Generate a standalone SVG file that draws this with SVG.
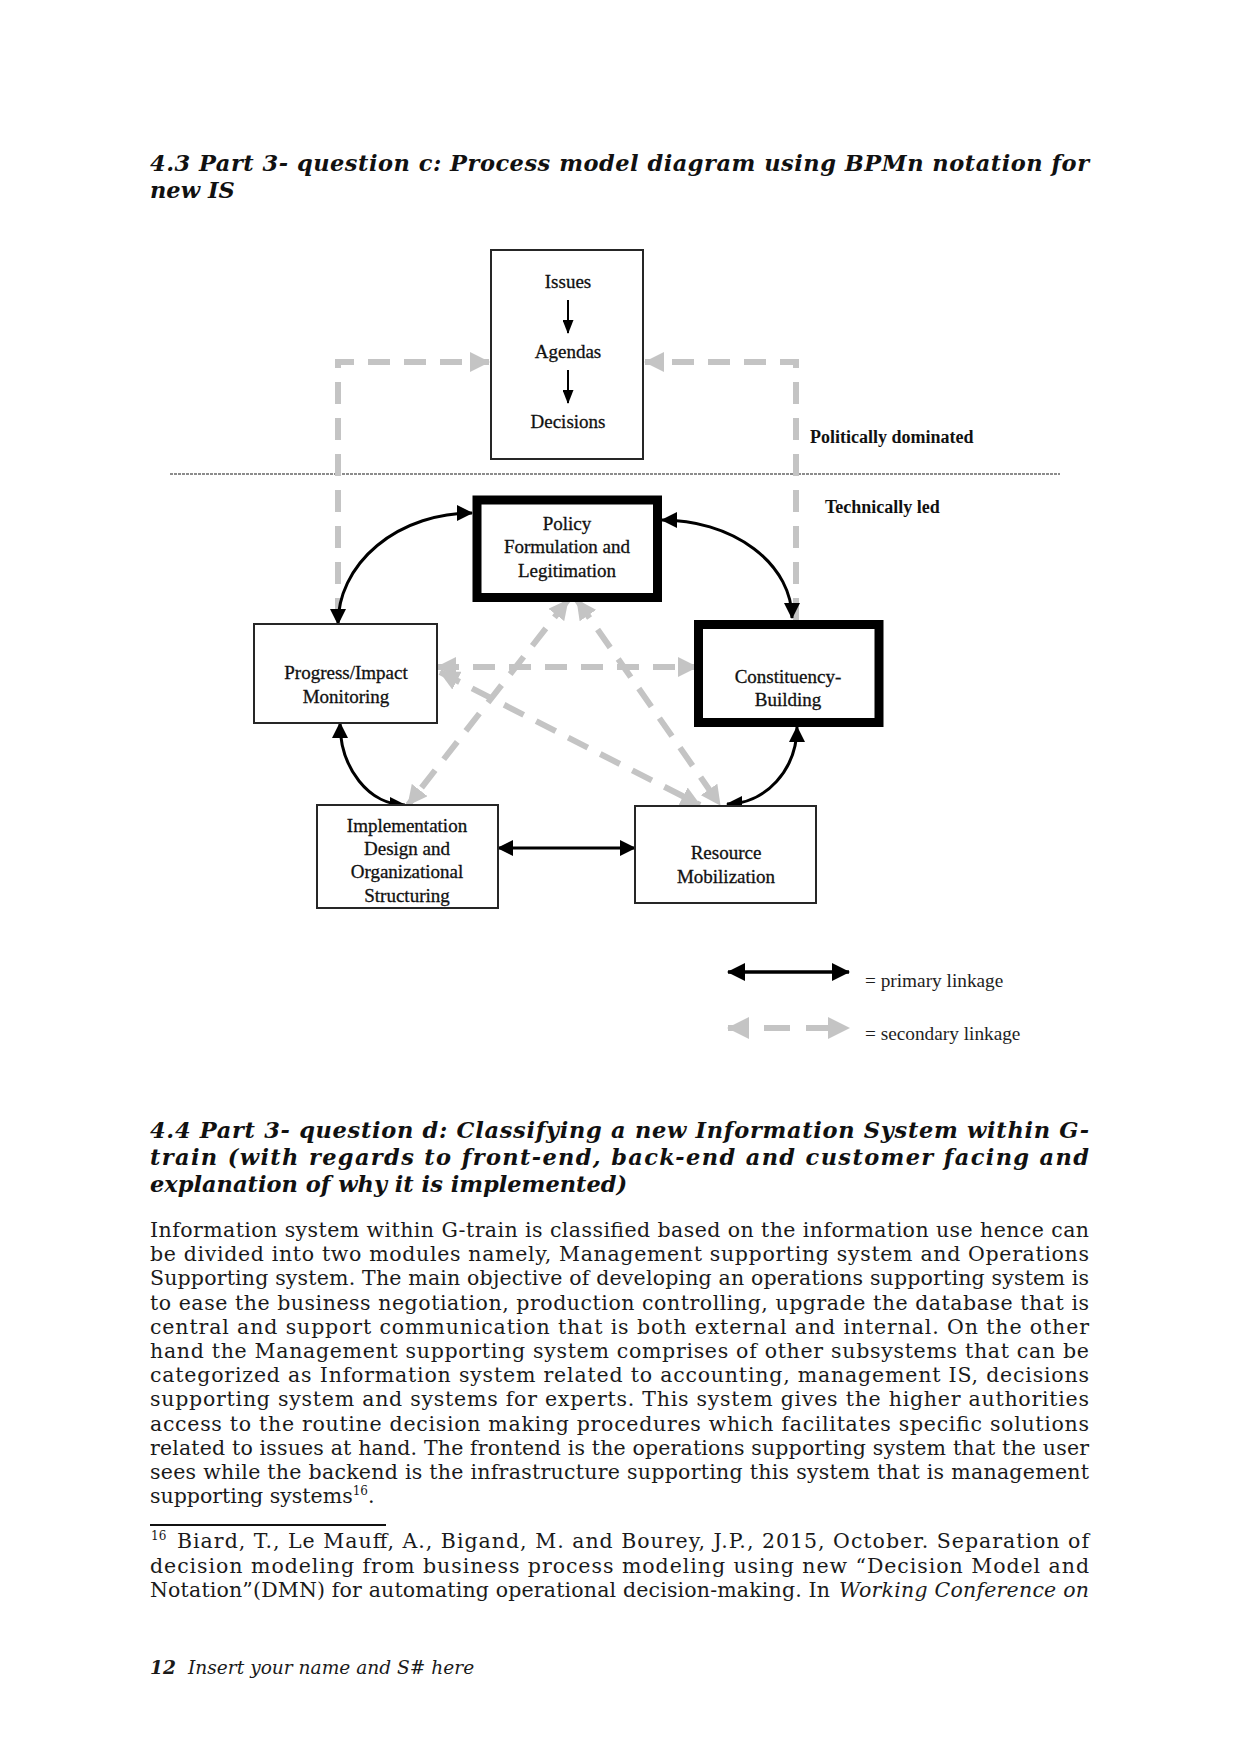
<svg xmlns="http://www.w3.org/2000/svg" width="1241" height="1754" viewBox="0 0 1241 1754">
<style>
.h{font-family:"DejaVu Serif",serif;font-weight:bold;font-style:italic;font-size:22.5px;fill:#111}
.b{font-family:"DejaVu Serif",serif;font-size:20.5px;fill:#1a1a1a}
.bi{font-family:"DejaVu Serif",serif;font-size:20.5px;font-style:italic;fill:#1a1a1a}
.sup{font-family:"DejaVu Serif",serif;font-size:12px;fill:#1a1a1a}
.f{font-family:"DejaVu Serif",serif;font-size:18.6px;font-style:italic;fill:#1a1a1a}
.d{font-family:"Liberation Serif","Times New Roman",serif;font-size:19px;fill:#111;stroke:#111;stroke-width:0.3;text-anchor:middle}
.dl{font-family:"Liberation Serif","Times New Roman",serif;font-size:18px;font-weight:bold;fill:#111}
.lg{font-family:"Liberation Serif","Times New Roman",serif;font-size:19.3px;fill:#1e1e1e}
.box{fill:#fff;stroke:#262626;stroke-width:2}
.thick{fill:#fff;stroke:#000;stroke-width:9}
.prim{fill:none;stroke:#000;stroke-width:3;marker-start:url(#ab);marker-end:url(#ab)}
.sec{fill:none;stroke:#c4c4c4;stroke-width:6;stroke-dasharray:22 14}
.sec2{marker-start:url(#ag);marker-end:url(#ag)}
</style>
<defs>
<marker id="ab" viewBox="0 0 16 16" markerUnits="userSpaceOnUse" markerWidth="16" markerHeight="16" refX="15" refY="8" orient="auto-start-reverse"><path d="M0,0 L16,8 L0,16 z" fill="#000"/></marker>
<marker id="ag" viewBox="0 0 20 20" markerUnits="userSpaceOnUse" markerWidth="20" markerHeight="20" refX="19" refY="10" orient="auto-start-reverse"><path d="M0,0 L20,10 L0,20 z" fill="#c4c4c4"/></marker>
<marker id="as" viewBox="0 0 14 11" markerUnits="userSpaceOnUse" markerWidth="14" markerHeight="11" refX="13" refY="5.5" orient="auto"><path d="M0,0 L14,5.5 L0,11 z" fill="#000"/></marker>
<marker id="abL" viewBox="0 0 18 18" markerUnits="userSpaceOnUse" markerWidth="18" markerHeight="18" refX="17" refY="9" orient="auto-start-reverse"><path d="M0,0 L18,9 L0,18 z" fill="#000"/></marker>
<marker id="agL" viewBox="0 0 22 22" markerUnits="userSpaceOnUse" markerWidth="22" markerHeight="22" refX="21" refY="11" orient="auto-start-reverse"><path d="M0,0 L22,11 L0,22 z" fill="#c4c4c4"/></marker>
</defs>

<!-- Headings -->
<text class="h" x="150" y="171" textLength="939" lengthAdjust="spacing">4.3 Part 3- question c: Process model diagram using BPMn notation for</text>
<text class="h" x="150" y="198">new IS</text>

<!-- separator -->
<line x1="170" y1="474" x2="1060" y2="474" stroke="#8c8c8c" stroke-width="2" stroke-dasharray="3 1"/>

<g id="connectors">
<path class="sec" d="M338,620 V362 H489" marker-end="url(#ag)"/>
<path class="sec" d="M796,620 V362 H645" marker-end="url(#ag)"/>
<path class="sec sec2" d="M437,667 H697"/>
<path class="sec sec2" d="M568,600 L408,805"/>
<path class="sec sec2" d="M577,600 L720,805"/>
<path class="sec sec2" d="M440,672 L700,805"/>
<path class="prim" d="M472,513 A134,111 0 0 0 338,624"/>
<path class="prim" d="M662,520 A130,98 0 0 1 792,618"/>
<path class="prim" d="M797,727 A70,77 0 0 1 727,804"/>
<path class="prim" d="M340,723 A65,82 0 0 0 405,805"/>
<path class="prim" d="M498,848 H635"/>
</g>

<g id="node-agenda">
<rect class="box" x="491" y="250" width="152" height="209"/>
<text class="d" x="568" y="288">Issues</text>
<path d="M568,300 V333" stroke="#000" stroke-width="2" marker-end="url(#as)"/>
<text class="d" x="568" y="358">Agendas</text>
<path d="M568,370 V403" stroke="#000" stroke-width="2" marker-end="url(#as)"/>
<text class="d" x="568" y="428">Decisions</text>
</g>
<g id="node-policy">
<rect class="thick" x="477" y="500" width="180.5" height="97.5"/>
<text class="d" x="567" y="530">Policy</text>
<text class="d" x="567" y="553">Formulation and</text>
<text class="d" x="567" y="577">Legitimation</text>
</g>
<g id="node-progress">
<rect class="box" x="254" y="624" width="183" height="99"/>
<text class="d" x="346" y="679">Progress/Impact</text>
<text class="d" x="346" y="703">Monitoring</text>
</g>
<g id="node-constituency">
<rect class="thick" x="698.5" y="624.5" width="180.5" height="98"/>
<text class="d" x="788" y="683">Constituency-</text>
<text class="d" x="788" y="706">Building</text>
</g>
<g id="node-implementation">
<rect class="box" x="317" y="805" width="181" height="103"/>
<text class="d" x="407" y="832">Implementation</text>
<text class="d" x="407" y="855">Design and</text>
<text class="d" x="407" y="878">Organizational</text>
<text class="d" x="407" y="902">Structuring</text>
</g>
<g id="node-resource">
<rect class="box" x="635" y="806" width="181" height="97"/>
<text class="d" x="726" y="859">Resource</text>
<text class="d" x="726" y="883">Mobilization</text>
</g>

<text class="dl" x="810" y="443">Politically dominated</text>
<text class="dl" x="825" y="513">Technically led</text>

<!-- legend -->
<g id="legend">
<path d="M728,972 H849" stroke="#000" stroke-width="3.5" marker-start="url(#abL)" marker-end="url(#abL)"/>
<text class="lg" x="865" y="987">= primary linkage</text>
<path d="M728,1028 H749 M764,1028 H790 M806,1028 H832" stroke="#c4c4c4" stroke-width="6"/>
<path d="M728,1028 H849" stroke="none" marker-start="url(#agL)" marker-end="url(#agL)"/>
<text class="lg" x="865" y="1040">= secondary linkage</text>
</g>

<!-- section 4.4 -->
<text class="h" x="150" y="1138" textLength="939" lengthAdjust="spacing">4.4 Part 3- question d: Classifying a new Information System within G-</text>
<text class="h" x="150" y="1165" textLength="939" lengthAdjust="spacing">train (with regards to front-end, back-end and customer facing and</text>
<text class="h" x="150" y="1192">explanation of why it is implemented)</text>

<text class="b" x="150" y="1237" textLength="939" lengthAdjust="spacing">Information system within G-train is classified based on the information use hence can</text>
<text class="b" x="150" y="1261.2" textLength="939" lengthAdjust="spacing">be divided into two modules namely, Management supporting system and Operations</text>
<text class="b" x="150" y="1285.4" textLength="939" lengthAdjust="spacing">Supporting system. The main objective of developing an operations supporting system is</text>
<text class="b" x="150" y="1309.6" textLength="939" lengthAdjust="spacing">to ease the business negotiation, production controlling, upgrade the database that is</text>
<text class="b" x="150" y="1333.8" textLength="939" lengthAdjust="spacing">central and support communication that is both external and internal. On the other</text>
<text class="b" x="150" y="1358" textLength="939" lengthAdjust="spacing">hand the Management supporting system comprises of other subsystems that can be</text>
<text class="b" x="150" y="1382.2" textLength="939" lengthAdjust="spacing">categorized as Information system related to accounting, management IS, decisions</text>
<text class="b" x="150" y="1406.4" textLength="939" lengthAdjust="spacing">supporting system and systems for experts. This system gives the higher authorities</text>
<text class="b" x="150" y="1430.6" textLength="939" lengthAdjust="spacing">access to the routine decision making procedures which facilitates specific solutions</text>
<text class="b" x="150" y="1454.8" textLength="939" lengthAdjust="spacing">related to issues at hand. The frontend is the operations supporting system that the user</text>
<text class="b" x="150" y="1479" textLength="939" lengthAdjust="spacing">sees while the backend is the infrastructure supporting this system that is management</text>
<text class="b" x="150" y="1503.2">supporting systems<tspan dy="-8" style="font-size:12px">16</tspan><tspan dy="8">.</tspan></text>

<line x1="150" y1="1525" x2="386" y2="1525" stroke="#111" stroke-width="2"/>
<text class="sup" x="151" y="1540">16</text>
<text class="b" x="177" y="1548" textLength="912" lengthAdjust="spacing">Biard, T., Le Mauff, A., Bigand, M. and Bourey, J.P., 2015, October. Separation of</text>
<text class="b" x="150" y="1573" textLength="939" lengthAdjust="spacing">decision modeling from business process modeling using new “Decision Model and</text>
<text class="b" x="150" y="1597" textLength="680" lengthAdjust="spacing">Notation”(DMN) for automating operational decision-making. In</text>
<text class="bi" x="839" y="1597" textLength="250" lengthAdjust="spacing">Working Conference on</text>

<text class="f" x="150" y="1674" font-weight="bold">12</text>
<text class="f" x="188" y="1674">Insert your name and S# here</text>
</svg>
